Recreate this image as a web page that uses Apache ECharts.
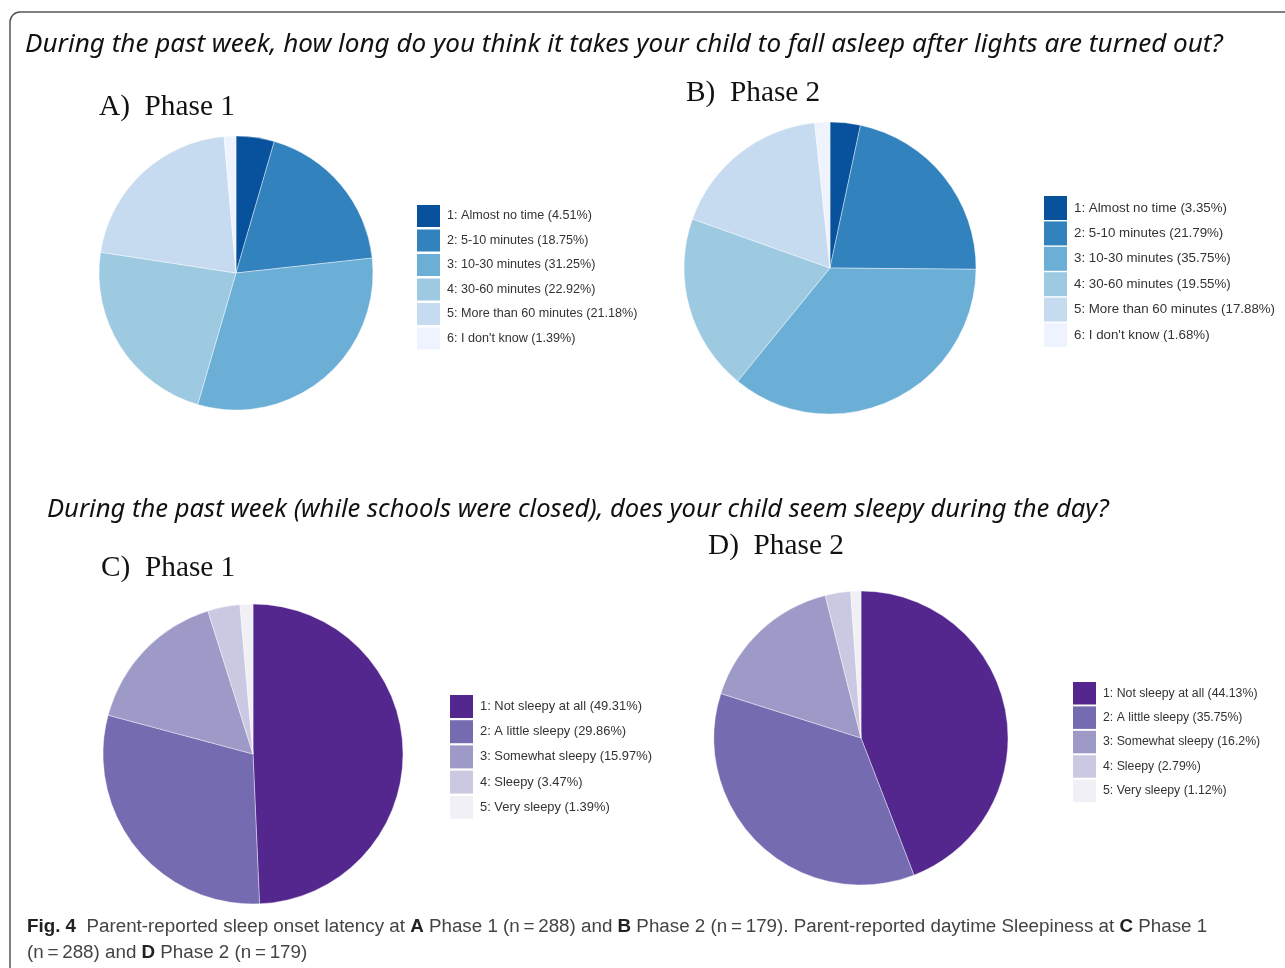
<!DOCTYPE html>
<html>
<head>
<meta charset="utf-8">
<script src="https://cdn.jsdelivr.net/npm/echarts@6/dist/echarts.min.js"></script>
<style>
html,body{margin:0;padding:0;background:#fff}
#main{width:1285px;height:968px}
</style>
</head>
<body>
<div id="main"></div>
<script>
// sleep onset latency (A, B)
var latencyCats = ['Almost no time', '5-10 minutes', '10-30 minutes', '30-60 minutes', 'More than 60 minutes', "I don't know"];
var latencyPhase1 = [4.51, 18.75, 31.25, 22.92, 21.18, 1.39];
var latencyPhase2 = [3.35, 21.79, 35.75, 19.55, 17.88, 1.68];

// daytime sleepiness (C, D)
var sleepyCats = ['Not sleepy at all', 'A little sleepy', 'Somewhat sleepy', 'Sleepy', 'Very sleepy'];
var sleepyPhase1 = [49.31, 29.86, 15.97, 3.47, 1.39];
var sleepyPhase2 = [44.13, 35.75, 16.2, 2.79, 1.12];

var blues = ['#08519c', '#3182bd', '#6baed6', '#9ecae1', '#c6dbef', '#eff3ff'];
var purples = ['#54278f', '#756bb1', '#9e9ac8', '#cbc9e2', '#f2f0f7'];

var q1 = 'During the past week, how long do you think it takes your child to fall asleep after lights are turned out?';
var q2 = 'During the past week (while schools were closed), does your child seem sleepy during the day?';
var cap1 = 'Fig. 4  Parent-reported sleep onset latency at A Phase 1 (n\u2009=\u2009288) and B Phase 2 (n\u2009=\u2009179). Parent-reported daytime Sleepiness at C Phase 1';

// pick a font size so the text fills a given width
var cv = document.createElement('canvas').getContext('2d');
function fitFont(text, style, family, target) {
    cv.font = style + ' 100px ' + family;
    return Math.round(100 * target / cv.measureText(text).width * 10) / 10;
}

function makeNames(cats, vals) {
    return cats.map(function (c, i) {
        return (i + 1) + ': ' + c + ' (' + vals[i] + '%)';
    });
}

function makeData(cats, vals, colors) {
    var names = makeNames(cats, vals);
    return vals.map(function (v, i) {
        return {name: names[i], value: v, itemStyle: {color: colors[i]}};
    });
}

function pieSeries(center, r, data) {
    return {
        type: 'pie',
        center: center,
        radius: r,
        startAngle: 90,
        clockwise: true,
        label: {show: false},
        labelLine: {show: false},
        emphasis: {disabled: true},
        itemStyle: {borderColor: '#fff', borderWidth: 0.4},
        data: data
    };
}

function legendAt(left, top, h, gap, fs, names) {
    return {
        orient: 'vertical',
        left: left,
        top: top,
        padding: 0,
        icon: 'rect',
        itemWidth: 23,
        itemHeight: h,
        itemGap: gap,
        selectedMode: false,
        itemStyle: {borderWidth: 0},
        data: names,
        textStyle: {fontFamily: 'Liberation Sans', fontSize: fs, color: '#333', padding: [0, 0, 0, 2]}
    };
}

var qFont = 'Noto Sans';
var q1Size = fitFont(q1, 'italic', qFont, 1197);
var q2Size = fitFont(q2, 'italic', qFont, 1060);
var panelSize = fitFont('A)  Phase 1', 'normal', 'Liberation Serif', 136);
var capSize = fitFont(cap1, 'normal', 'Liberation Sans', 1176);

function panelTitle(txt, x, y) {
    return {
        type: 'text', left: x, top: y - panelSize * 0.6 + 5,
        style: {text: txt, fontFamily: 'Liberation Serif', fontSize: panelSize, fill: '#111'}
    };
}

var capRich = {b: {fontWeight: 'bold', fontFamily: 'Liberation Sans', fontSize: capSize, fill: '#222'}};

var chart = echarts.init(document.getElementById('main'));
chart.setOption({
    animation: false,
    backgroundColor: '#fff',
    graphic: [
        {type: 'rect', shape: {x: 10, y: 12, width: 1320, height: 1000, r: 10},
         style: {fill: 'none', stroke: '#555', lineWidth: 1.5}},
        {type: 'text', left: 25, top: 42 - q1Size * 0.7 + 8,
         style: {text: q1, fontFamily: qFont, fontStyle: 'italic', fontSize: q1Size, fill: '#111'}},
        {type: 'text', left: 47, top: 507 - q2Size * 0.7 + 8,
         style: {text: q2, fontFamily: qFont, fontStyle: 'italic', fontSize: q2Size, fill: '#111'}},
        panelTitle('A)  Phase 1', 99, 105),
        panelTitle('B)  Phase 2', 686, 91),
        panelTitle('C)  Phase 1', 101, 566),
        panelTitle('D)  Phase 2', 708, 544),
        {type: 'text', left: 27, top: 914,
         style: {
             text: '{b|Fig. 4}  Parent-reported sleep onset latency at {b|A} Phase 1 (n\u2009=\u2009288) and {b|B} Phase 2 (n\u2009=\u2009179). Parent-reported daytime Sleepiness at {b|C} Phase 1\n(n\u2009=\u2009288) and {b|D} Phase 2 (n\u2009=\u2009179)',
             rich: capRich,
             fontFamily: 'Liberation Sans',
             fontSize: capSize,
             lineHeight: 26,
             fill: '#444'
         }}
    ],
    legend: [
        legendAt(417, 205, 22, 2.5, 12.6, makeNames(latencyCats, latencyPhase1)),
        legendAt(1044, 196, 24, 1.4, 13.3, makeNames(latencyCats, latencyPhase2)),
        legendAt(450, 695, 23, 2.2, 12.9, makeNames(sleepyCats, sleepyPhase1)),
        legendAt(1073, 682, 22.5, 1.9, 12.3, makeNames(sleepyCats, sleepyPhase2))
    ],
    series: [
        pieSeries([236, 273], 137, makeData(latencyCats, latencyPhase1, blues)),
        pieSeries([830, 268], 146, makeData(latencyCats, latencyPhase2, blues)),
        pieSeries([253, 754], 150, makeData(sleepyCats, sleepyPhase1, purples)),
        pieSeries([861, 738], 147, makeData(sleepyCats, sleepyPhase2, purples))
    ]
});
</script>
</body>
</html>
